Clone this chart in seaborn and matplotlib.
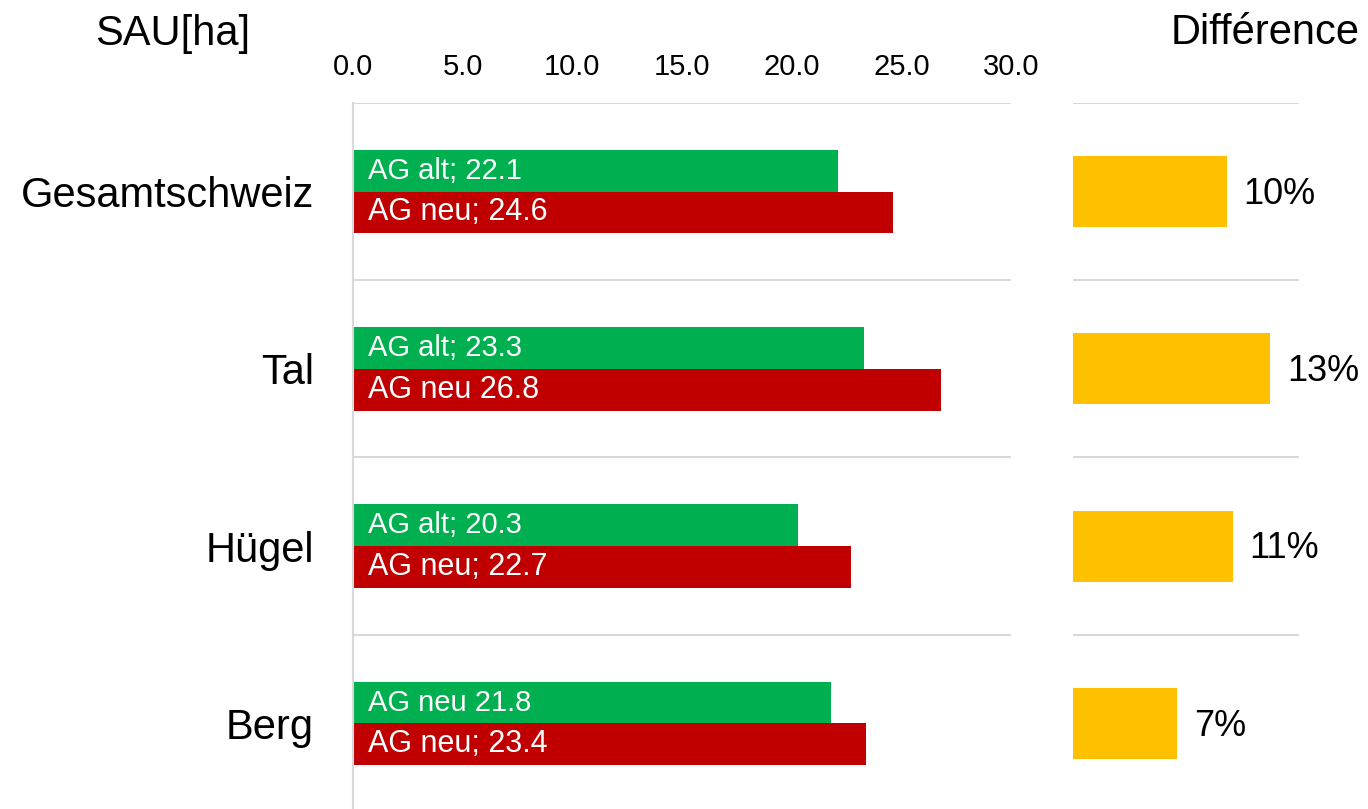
import pandas as pd
import seaborn as sns
import matplotlib.pyplot as plt

# Daten
regionen = ['Gesamtschweiz', 'Tal', 'Hügel', 'Berg']
ag_alt = [22.1, 23.3, 20.3, 21.8]
ag_neu = [24.6, 26.8, 22.7, 23.4]
label_alt = ['AG alt; 22.1', 'AG alt; 23.3', 'AG alt; 20.3', 'AG neu 21.8']
label_neu = ['AG neu; 24.6', 'AG neu 26.8', 'AG neu; 22.7', 'AG neu; 23.4']
differenz = [0.102, 0.131, 0.106, 0.069]
label_diff = ['10%', '13%', '11%', '7%']
x_ticks = [0, 5, 10, 15, 20, 25, 30]

GRUEN = '#00B050'
ROT = '#C00000'
GELB = '#FFC000'
GRAU = '#D9D9D9'

sns.set_theme(style='white')
plt.rcParams['font.family'] = ['Liberation Sans', 'DejaVu Sans']
plt.rcParams['text.color'] = 'black'
plt.rcParams['xtick.color'] = 'black'
plt.rcParams['ytick.color'] = 'black'

df = pd.DataFrame({
    'region': regionen * 2,
    'wert': ag_alt + ag_neu,
    'serie': ['alt'] * 4 + ['neu'] * 4,
})
df_diff = pd.DataFrame({'region': regionen, 'diff': differenz})

fig = plt.figure(figsize=(13.68, 8.09), dpi=100)

# Hauptgrafik links
unten = 1 - 812 / 809
hoehe = 709 / 809
ax = fig.add_axes([353 / 1368, unten, 658 / 1368, hoehe])
sns.barplot(data=df, y='region', x='wert', hue='serie', orient='h',
            palette=[GRUEN, ROT], width=0.47, legend=False, ax=ax,
            saturation=1, linewidth=0)
ax.set_xlim(0, 30)
ax.set_ylim(3.5, -0.5)
ax.xaxis.tick_top()
ax.set_xticks(x_ticks)
ax.set_xticklabels([f'{t:.1f}' for t in x_ticks], fontsize=21)
ax.tick_params(axis='x', length=0, pad=16)
ax.tick_params(axis='y', length=0, pad=28, labelsize=30)
ax.set_xlabel('')
ax.set_ylabel('')
for s in ['top', 'right', 'bottom']:
    ax.spines[s].set_visible(False)
ax.spines['left'].set_color(GRAU)
ax.spines['left'].set_linewidth(1.5)
for b in [-0.5, 0.5, 1.5, 2.5, 3.5]:
    ax.axhline(b, color=GRAU, lw=1.5, zorder=0)

# Beschriftung in den Balken
for cont, labels, fs in zip(ax.containers, [label_alt, label_neu], [21, 22]):
    for bar, txt in zip(cont, labels):
        ax.annotate(txt, xy=(0, bar.get_y() + bar.get_height() / 2),
                    xytext=(11, 0), textcoords='offset points',
                    ha='left', va='center', color='white', fontsize=fs)

# Differenz rechts
ax2 = fig.add_axes([1073 / 1368, unten, 226 / 1368, hoehe])
sns.barplot(data=df_diff, y='region', x='diff', orient='h', color=GELB,
            width=0.4, ax=ax2, saturation=1, linewidth=0)
ax2.set_xlim(0, 0.15)
ax2.set_ylim(3.5, -0.5)
ax2.set_xticks([])
ax2.set_yticks([])
ax2.set_xlabel('')
ax2.set_ylabel('')
for s in ax2.spines.values():
    s.set_visible(False)
for b in [-0.5, 0.5, 1.5, 2.5, 3.5]:
    ax2.axhline(b, color=GRAU, lw=1.5, zorder=0)
for bar, txt in zip(ax2.containers[0], label_diff):
    ax2.annotate(txt, xy=(bar.get_width(), bar.get_y() + bar.get_height() / 2),
                 xytext=(12, -2), textcoords='offset points',
                 ha='left', va='center', fontsize=26)

fig.text(173 / 1368, 1 - 34 / 809, 'SAU[ha]', ha='center', va='center', fontsize=30)
fig.text(1360 / 1368, 1 - 33 / 809, 'Différence', ha='right', va='center', fontsize=30)

fig.savefig('out.png', dpi=100)
